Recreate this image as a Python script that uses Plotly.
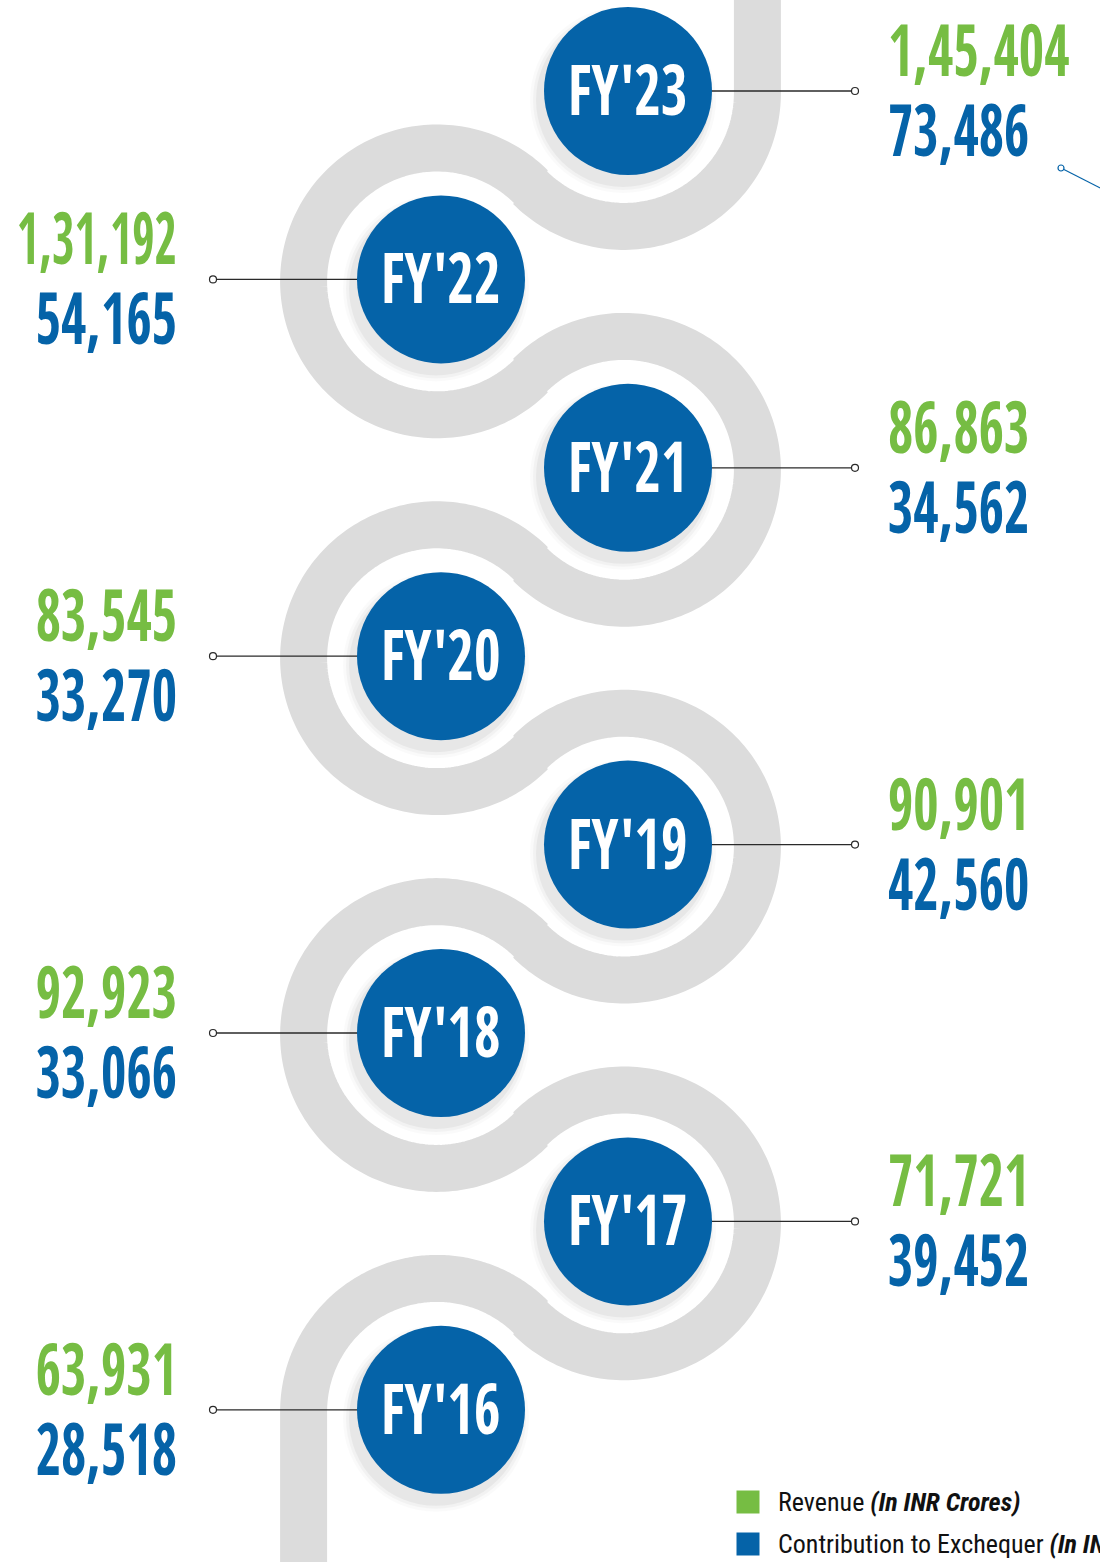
import numpy as np
import plotly.graph_objects as go

years = ["FY'23", "FY'22", "FY'21", "FY'20", "FY'19", "FY'18", "FY'17", "FY'16"]
revenue = ["1,45,404", "1,31,192", "86,863", "83,545", "90,901", "92,923", "71,721", "63,931"]
contribution = ["73,486", "54,165", "34,562", "33,270", "42,560", "33,066", "39,452", "28,518"]

GREEN = "#76bd43"
BLUE = "#0563a8"
ROAD = "#dcdcdc"
NUM_FONT = "Open Sans Condensed"
LEG_FONT = "Roboto Condensed"

W, H = 1100, 1562
top_y, step = 91, 188.4
right_x, left_x = 628, 441
R_ROAD = 133.4

cx = [right_x if i % 2 == 0 else left_x for i in range(len(years))]
cy = [top_y + i * step for i in range(len(years))]

fig = go.Figure()

# winding road built from tangent arcs around each circle
rx, ry = [], []
n = len(years)
for i in range(n):
    ax, ay = cx[i] - 4, cy[i] + 2
    if i == 0:
        rx += [ax + R_ROAD, ax + R_ROAD]
        ry += [-5, ay]
        th = np.radians(np.linspace(0, 135, 90))
    elif i % 2 == 0:
        th = np.radians(np.linspace(225, 495, 180))
    else:
        end = -180 if i == n - 1 else -315
        th = np.radians(np.linspace(-45, end, 180))
    rx += list(ax + R_ROAD * np.cos(th))
    ry += list(ay + R_ROAD * np.sin(th))
    if i == n - 1:
        rx += [ax - R_ROAD]
        ry += [H + 5]
fig.add_trace(go.Scatter(x=rx, y=ry, mode="lines",
                         line=dict(color=ROAD, width=47, simplify=False),
                         hoverinfo="skip", showlegend=False))

# connector lines with small end rings
for i in range(n):
    ex = 855 if i % 2 == 0 else 213
    fig.add_trace(go.Scatter(x=[cx[i], ex], y=[cy[i], cy[i]], mode="lines",
                             line=dict(color="#2a2a2a", width=1.3),
                             hoverinfo="skip", showlegend=False))
    fig.add_trace(go.Scatter(x=[ex], y=[cy[i]], mode="markers",
                             marker=dict(size=7, color="white",
                                         line=dict(color="#2a2a2a", width=1.2)),
                             hoverinfo="skip", showlegend=False))

# stray pointer fragment top right
fig.add_trace(go.Scatter(x=[1061, 1110], y=[168, 193], mode="lines",
                         line=dict(color=BLUE, width=1.2), hoverinfo="skip", showlegend=False))
fig.add_trace(go.Scatter(x=[1061], y=[168], mode="markers",
                         marker=dict(size=6, color="white", line=dict(color=BLUE, width=1.2)),
                         hoverinfo="skip", showlegend=False))

# soft shadows under circles
for s, a in [(186, 0.02), (180, 0.03), (174, 0.045)]:
    fig.add_trace(go.Scatter(x=[x - 5 for x in cx], y=[y + 9 for y in cy], mode="markers",
                             marker=dict(size=s, color=f"rgba(0,0,0,{a})"),
                             hoverinfo="skip", showlegend=False))

# year circles
fig.add_trace(go.Scatter(x=cx, y=cy, mode="markers",
                         marker=dict(size=168, color=BLUE),
                         hoverinfo="skip", showlegend=False))
for i in range(n):
    fig.add_annotation(x=cx[i], y=cy[i] - 3, text=years[i], showarrow=False,
                       xanchor="center", yanchor="middle", align="center",
                       font=dict(family=NUM_FONT, size=70, color="white", weight="bold"))

# values
for i in range(n):
    xa, tx = ("left", 886) if i % 2 == 0 else ("right", 179)
    fig.add_annotation(x=tx, y=cy[i] - 43, text=revenue[i], showarrow=False, xanchor=xa,
                       yanchor="middle", align=xa,
                       font=dict(family=NUM_FONT, size=72, color=GREEN, weight="bold"))
    fig.add_annotation(x=tx, y=cy[i] + 37, text=contribution[i], showarrow=False, xanchor=xa,
                       yanchor="middle", align=xa,
                       font=dict(family=NUM_FONT, size=72, color=BLUE, weight="bold"))

# legend
fig.add_trace(go.Scatter(x=[748, 748], y=[1502, 1544], mode="markers",
                         marker=dict(symbol="square", size=23, color=[GREEN, BLUE]),
                         hoverinfo="skip", showlegend=False))
legend_text = ["Revenue <b><i>(In INR Crores)</i></b>",
               "Contribution to Exchequer <b><i>(In INR Crores)</i></b>"]
for t, y in zip(legend_text, [1502, 1544]):
    fig.add_annotation(x=776, y=y, text=t, showarrow=False, xanchor="left", yanchor="middle",
                       align="left", font=dict(family=LEG_FONT, size=26, color="#111111"))

fig.update_layout(
    width=W, height=H,
    margin=dict(l=0, r=0, t=0, b=0),
    paper_bgcolor="white", plot_bgcolor="white",
    xaxis=dict(range=[0, W], visible=False, fixedrange=True),
    yaxis=dict(range=[H, 0], visible=False, fixedrange=True),
)

# the big figures use a tall condensed face: squeeze them horizontally,
# left-column figures capped so they stay inside the page
squeeze_js = """
document.body.style.margin = '0';
var gd = document.getElementById('{plot_id}');
function squeeze() {
  gd.querySelectorAll('text.annotation-text').forEach(function (t) {
    var fs = parseFloat(t.style.fontSize);
    if (fs < 50) return;
    var a = t.getAttribute('text-anchor');
    var o = a === 'start' ? 'left' : (a === 'end' ? 'right' : 'center');
    var k = fs < 71 ? 0.82 : 0.76;
    if (a === 'end') {
      var w = t.getBBox().width;
      if (w * k > 160) k = 160 / w;
    }
    t.style.transformBox = 'fill-box';
    t.style.transformOrigin = o + ' center';
    t.style.transform = 'scaleX(' + k + ')';
  });
}
squeeze();
setTimeout(squeeze, 200);
gd.on('plotly_afterplot', squeeze);
"""

fig.write_html("out.html", config=dict(displayModeBar=False), post_script=squeeze_js)
